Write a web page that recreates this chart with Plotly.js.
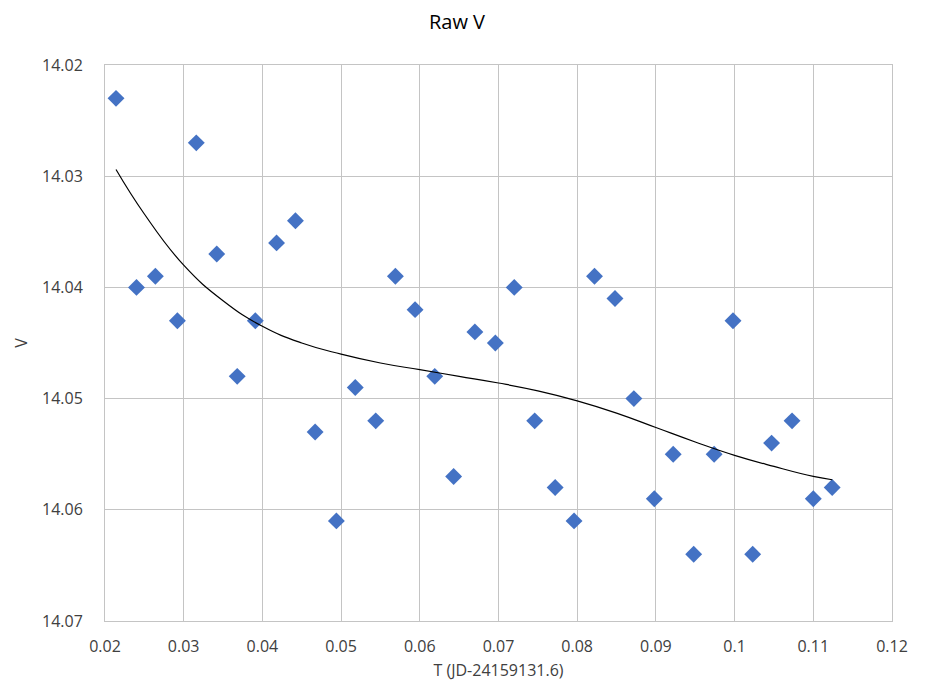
<!DOCTYPE html>
<html>
<head>
<meta charset="utf-8">
<script src="https://cdn.plot.ly/plotly-3.0.1.min.js"></script>
<style>html,body{margin:0;padding:0;background:#fff;}#chart{width:927px;height:688px;}</style>
</head>
<body>
<div id="chart"></div>
<script>
// Observed data (T, V)
const tValues = [0.0214, 0.0240, 0.0264, 0.0292, 0.0316, 0.0342, 0.0368, 0.0391, 0.0418, 0.0442,
                 0.0467, 0.0494, 0.0518, 0.0544, 0.0569, 0.0594, 0.0619, 0.0643, 0.0670, 0.0696,
                 0.0720, 0.0746, 0.0772, 0.0796, 0.0822, 0.0848, 0.0872, 0.0898, 0.0922, 0.0948,
                 0.0974, 0.0998, 0.1023, 0.1047, 0.1073, 0.1100, 0.1124];
const vValues = [14.023, 14.040, 14.039, 14.043, 14.027, 14.037, 14.048, 14.043, 14.036, 14.034,
                 14.053, 14.061, 14.049, 14.052, 14.039, 14.042, 14.048, 14.057, 14.044, 14.045,
                 14.040, 14.052, 14.058, 14.061, 14.039, 14.041, 14.050, 14.059, 14.055, 14.064,
                 14.055, 14.043, 14.064, 14.054, 14.052, 14.059, 14.058];

// Trend line
const trendT = [0.0214, 0.025, 0.030, 0.035, 0.040, 0.045, 0.050, 0.055, 0.060, 0.065,
                0.070, 0.075, 0.080, 0.085, 0.090, 0.095, 0.100, 0.105, 0.110, 0.1124];
const trendV = [14.0294, 14.0334, 14.0380, 14.0412, 14.0435, 14.0450, 14.0460, 14.0468, 14.0474, 14.0480,
                14.0486, 14.0493, 14.0502, 14.0513, 14.0526, 14.0539, 14.0551, 14.0561, 14.0570, 14.0573];

const xTicks = [0.02, 0.03, 0.04, 0.05, 0.06, 0.07, 0.08, 0.09, 0.10, 0.11, 0.12];
const xTickText = ["0.02", "0.03", "0.04", "0.05", "0.06", "0.07", "0.08", "0.09", "0.1", "0.11", "0.12"];
const yTicks = [14.02, 14.03, 14.04, 14.05, 14.06, 14.07];
const yTickText = ["14.02", "14.03", "14.04", "14.05", "14.06", "14.07"];

const font = "'Open Sans', 'Noto Sans', sans-serif";

const traces = [
  {
    x: tValues, y: vValues, type: 'scatter', mode: 'markers', name: 'V',
    marker: {symbol: 'diamond', size: 13, color: '#4472C4'}
  },
  {
    x: trendT, y: trendV, type: 'scatter', mode: 'lines', name: 'Trend',
    line: {color: '#000000', width: 1.2, shape: 'spline', smoothing: 1.3}
  }
];

const layout = {
  width: 927, height: 688,
  margin: {l: 105, r: 35, t: 65, b: 67},
  paper_bgcolor: '#ffffff', plot_bgcolor: '#ffffff',
  showlegend: false,
  font: {family: font, color: '#404040'},
  title: {text: 'Raw V', x: 0.493, xanchor: 'center', y: 0.968, yanchor: 'middle',
          font: {family: font, size: 20, color: '#000000'}},
  xaxis: {
    range: [0.02, 0.12], tickvals: xTicks, ticktext: xTickText,
    showgrid: true, gridcolor: '#c4c4c4', gridwidth: 1,
    showline: true, linecolor: '#c4c4c4', linewidth: 1, mirror: true,
    zeroline: false, ticks: '', ticklabelstandoff: 11,
    tickfont: {family: font, size: 16, color: '#404040'},
    title: {text: 'T (JD-24159131.6)', standoff: 8, font: {family: font, size: 16, color: '#404040'}}
  },
  yaxis: {
    range: [14.07, 14.02], tickvals: yTicks, ticktext: yTickText,
    showgrid: true, gridcolor: '#c4c4c4', gridwidth: 1,
    showline: true, linecolor: '#c4c4c4', linewidth: 1, mirror: true,
    zeroline: false, ticks: '', ticklabelstandoff: 18,
    tickfont: {family: font, size: 16, color: '#404040'},
    title: {text: 'V', standoff: 10, font: {family: font, size: 16, color: '#404040'}}
  }
};

Plotly.newPlot('chart', traces, layout, {displayModeBar: false, staticPlot: true});
</script>
</body>
</html>
